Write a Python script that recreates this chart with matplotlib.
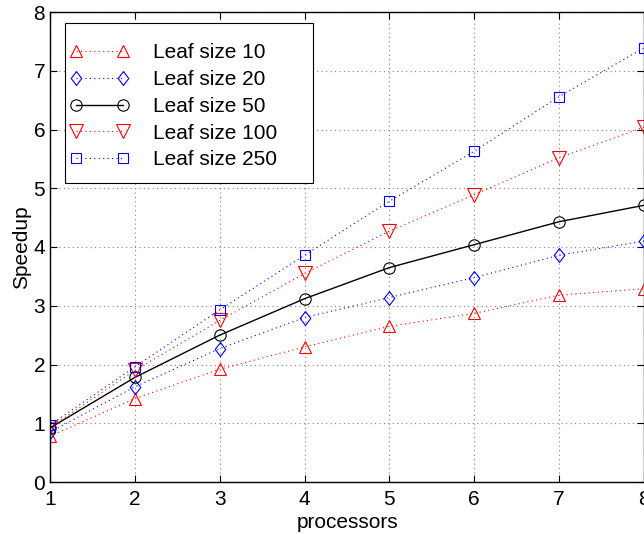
import matplotlib
matplotlib.use('Agg')
import matplotlib.pyplot as plt
from matplotlib.patches import Rectangle

plt.rcParams['font.family'] = ['Liberation Sans', 'DejaVu Sans']

# Data
processors = [1, 2, 3, 4, 5, 6, 7, 8]
leaf10 = [0.78, 1.42, 1.92, 2.30, 2.65, 2.87, 3.18, 3.29]
leaf20 = [0.85, 1.62, 2.27, 2.80, 3.14, 3.48, 3.86, 4.10]
leaf50 = [0.92, 1.78, 2.50, 3.12, 3.65, 4.04, 4.43, 4.71]
leaf100 = [0.93, 1.90, 2.75, 3.55, 4.27, 4.89, 5.52, 6.04]
leaf250 = [0.97, 1.96, 2.93, 3.86, 4.78, 5.63, 6.56, 7.39]

fig = plt.figure(figsize=(6.44, 5.34), dpi=100)
ax = fig.add_axes([50/644, 52/534, 594/644, 470/534])

# MATLAB-like tall diamond
diamond = [(0, 1), (0.76, 0), (0, -1), (-0.76, 0), (0, 1)]
dots = (0, (1, 3))

ax.plot(processors, leaf10, color='red', linestyle=dots, lw=0.8, marker='^', ms=9,
        mfc='none', mew=0.8, label='Leaf size 10')
ax.plot(processors, leaf20, color='blue', linestyle=dots, lw=0.8, marker=diamond, ms=10,
        mfc='none', mew=0.8, label='Leaf size 20')
ax.plot(processors, leaf50, color='black', linestyle='-', lw=1.0, marker='o', ms=8.2,
        mfc='none', mew=0.8, label='Leaf size 50')
ax.plot(processors, leaf100, color='red', linestyle=dots, lw=0.8, marker='v', ms=9.5,
        mfc='none', mew=0.8, label='Leaf size 100')
ax.plot(processors, leaf250, color='blue', linestyle=dots, lw=0.8, marker='s', ms=7.3,
        mfc='none', mew=0.8, label='Leaf size 250')

ax.set_xlim(1, 8)
ax.set_ylim(0, 8)
ax.set_xticks(processors)
ax.set_yticks(range(0, 9))
ax.tick_params(direction='in', top=True, right=True, labelsize=15, length=5, width=0.8)
ax.tick_params(axis='x', pad=6)
ax.grid(True, linestyle=(0, (1, 3)), color='gray', lw=0.8)
for s in ax.spines.values():
    s.set_linewidth(1.0)

ax.set_xlabel('processors', fontsize=15, labelpad=3)
ax.set_ylabel('Speedup', fontsize=15, labelpad=2)

# legend box drawn separately so the padding matches the MATLAB look
box = Rectangle((0.0253, 0.6362), 0.4175, 0.3404, transform=ax.transAxes,
                facecolor='white', edgecolor='black', lw=0.8, zorder=5)
ax.add_patch(box)
leg = ax.legend(loc='upper left', bbox_to_anchor=(0.0335, 0.933), borderaxespad=0,
                fontsize=15, numpoints=2, handlelength=2.86, handletextpad=1.15,
                labelspacing=0.37, frameon=False, borderpad=0)
leg.set_zorder(6)

fig.savefig('out.png', dpi=100)
